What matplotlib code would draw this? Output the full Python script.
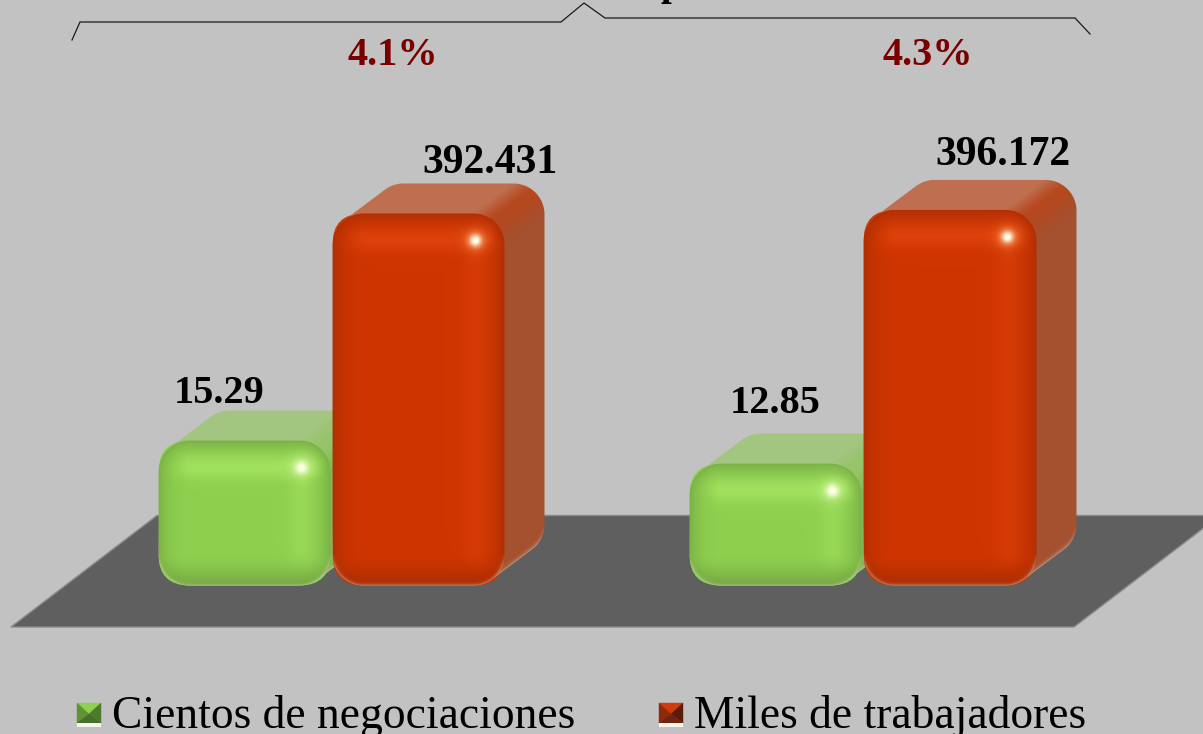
import numpy as np
import matplotlib
matplotlib.use("Agg")
import matplotlib.pyplot as plt
from matplotlib.patches import FancyBboxPatch, Polygon
from matplotlib.transforms import Affine2D, IdentityTransform
from matplotlib.colors import to_rgb

# data, as printed on the chart
groups = [0, 1]
negociaciones = [15.29, 12.85]   # cientos de negociaciones
trabajadores = [392.431, 396.172]  # miles de trabajadores
neg_labels = ["15.29", "12.85"]
trab_labels = ["392.431", "396.172"]
porcentajes = ["4.1%", "4.3%"]
leyenda = ["Cientos de negociaciones", "Miles de trabajadores"]
neg_scale = 10  # the green bars are drawn on a x10 scale in the original

W, H = 1203, 734
BG = "#c2c2c2"
SERIF = "Liberation Serif"
PX_PER_UNIT = 0.948

fig = plt.figure(figsize=(W / 100, H / 100), dpi=100, facecolor=BG)
ax = fig.add_axes([0, 0, 1, 1])
xlim = (-331.5 / 531, (W - 331.5) / 531)
ylim = ((585.5 - H) / PX_PER_UNIT, 585.5 / PX_PER_UNIT)
ax.set_xlim(xlim)
ax.set_ylim(ylim)
ax.axis("off")

# decoration placed in picture pixels, y going down
pix = Affine2D().scale(1 / W, -1 / H).translate(0, 1) + fig.transFigure


def hexmix(a, b, f):
    return a + (b - a) * f[..., None]


def rounded_sd(px, py, L, T, R, B, r):
    cx, cy = (L + R) / 2, (T + B) / 2
    qx = np.abs(px - cx) - (R - L) / 2 + r
    qy = np.abs(py - cy) - (B - T) / 2 + r
    out = np.hypot(np.maximum(qx, 0), np.maximum(qy, 0))
    return out + np.minimum(np.maximum(qx, qy), 0) - r


def paint_bar(rect, colors, zorder):
    """Paint the rounded 3D look over a bar rectangle."""
    (x0, y0), (x1, y1) = ax.transData.transform(
        [(rect.get_x(), rect.get_y()), (rect.get_x() + rect.get_width(), rect.get_height())]
    )
    L, R, B, T = x0, x1, H - y0, H - y1
    r, dx, dy = 31.0, 40.0, -30.0

    clip = FancyBboxPatch((L + r, y0 + r), R - L - 2 * r, y1 - y0 - 2 * r,
                          boxstyle=f"round,pad={r},rounding_size={r}",
                          transform=IdentityTransform())
    rect.set_clip_path(clip)

    ix0, ix1 = int(L) - 2, int(R + dx) + 3
    iy0, iy1 = int(T + dy) - 2, int(B) + 3
    px, py = np.meshgrid(np.arange(ix0, ix1) + 0.5, np.arange(iy0, iy1) + 0.5)

    # sides: sweep the rounded front box backwards
    sweep = np.full(px.shape, 1e9)
    qx, qy = px.copy(), py.copy()
    found = np.zeros(px.shape, bool)
    for t in np.linspace(0, 1, 61):
        sx, sy = px - t * dx, py - t * dy
        sd = rounded_sd(sx, sy, L, T, R, B, r)
        sweep = np.minimum(sweep, sd)
        new = (sd <= 0.5) & ~found
        qx[new], qy[new] = sx[new], sy[new]
        found |= new

    ux = np.maximum(qx - (R - r), 0)
    uy = np.maximum((T + r) - qy, 0)
    ang = np.where((ux > 0) | (uy > 0), np.arctan2(ux, uy), np.pi / 2)
    f = ang / (np.pi / 2)
    top, corner, side = [np.array(to_rgb(c)) for c in colors["sides"]]
    img = np.where((f < 0.5)[..., None],
                   hexmix(top, corner, np.clip(f / 0.4, 0, 1)),
                   hexmix(corner, side, np.clip((f - 0.5) / 0.5, 0, 1)))

    # pale rim where the side meets the floor
    rim = np.exp(-np.maximum(-sweep, 0) / 1.5) * np.clip((py - (B - 60)) / 20, 0, 1)
    img = hexmix(img, np.array([0.85, 0.82, 0.78]), 0.6 * rim)

    # front face
    front = rounded_sd(px, py, L, T, R, B, r)
    depth = np.maximum(-front, 0)
    base, band, dark, low = [np.array(to_rgb(c)) for c in colors["front"]]
    face = np.ones(px.shape + (3,)) * base
    xfade = np.clip((px - L - 8) / 22, 0, 1) * np.clip((R - 4 - px) / 12, 0, 1)
    hband = np.exp(-((py - T - 25) / 13) ** 2) * xfade
    vband = (np.exp(-((px - R + 28) / 13) ** 2)
             * np.clip((py - T - 12) / 14, 0, 1) * np.clip((B - 10 - py) / 24, 0, 1))
    face = hexmix(face, band, 0.7 * np.maximum(hband, 0.5 * vband))
    floor_dark = np.clip((py - (B - 30)) / 30, 0, 1) ** 1.5
    face = hexmix(face, low, 0.6 * floor_dark)
    face = hexmix(face, dark, 0.65 * np.exp(-depth / 10))
    d2 = (px - R + 29) ** 2 + (py - T - 27) ** 2
    face = hexmix(face, colors["halo"], 0.85 * np.exp(-d2 / 130))
    face = hexmix(face, np.array([1.0, 1.0, 0.9]), np.clip(1.15 * np.exp(-d2 / 32), 0, 1))
    rim_front = np.exp(-depth / 1.3) * np.clip((py - (B - 32)) / 12, 0, 1)
    face = hexmix(face, np.array([0.88, 0.84, 0.76]), 0.55 * rim_front)

    img = hexmix(img, face, np.clip(0.5 - front, 0, 1))
    rgba = np.dstack([np.clip(img, 0, 1), np.clip(0.5 - sweep, 0, 1)])

    inv = ax.transData.inverted()
    (a, b), (c, d) = inv.transform([(ix0, H - iy1), (ix1, H - iy0)])
    ax.imshow(rgba, extent=(a, c, b, d), origin="upper", aspect="auto",
              interpolation="nearest", zorder=zorder)


GREEN = {"front": ("#8fd14f", "#abec66", "#6f9f40", "#6f9f40"),
         "sides": ("#a2c57f", "#96c469", "#86b657"),
         "halo": np.array(to_rgb("#c9f590"))}
RED = {"front": ("#cf3500", "#e8470f", "#a02c06", "#a12a00"),
       "sides": ("#bf6e50", "#b5481e", "#a5502f"),
       "halo": np.array(to_rgb("#f57a3c"))}

# floor
ax.add_patch(Polygon([(11, 627), (1074, 627), (1220, 515.5), (157, 515.5)], closed=True,
                     facecolor="#5f5f5f", edgecolor="#8a8a8a", linewidth=1,
                     transform=pix, zorder=1))

width = 172 / 531
gap = 2 / 531
xs = np.array(groups)
neg_bars = ax.bar(xs - width / 2 - gap / 2, np.array(negociaciones) * neg_scale, width,
                  color="#8fd14f", zorder=2)
trab_bars = ax.bar(xs + width / 2 + gap / 2, trabajadores, width, color="#cf3500", zorder=2)

z = 3
for g_bar, r_bar in zip(neg_bars, trab_bars):
    g_bar.set_zorder(z)
    paint_bar(g_bar, GREEN, z + 0.5)
    r_bar.set_zorder(z + 1)
    paint_bar(r_bar, RED, z + 1.5)
    z += 2
ax.set_xlim(xlim)
ax.set_ylim(ylim)

# value labels above the bars, offsets in pixels from the bar's top centre
neg_offsets = [(-25, 38), (0, 51)]
trab_offsets = [(71, 40), (53, 45)]
for i in range(2):
    g_bar, r_bar = neg_bars[i], trab_bars[i]
    ax.annotate(neg_labels[i], (g_bar.get_x() + g_bar.get_width() / 2, g_bar.get_height()),
                xytext=neg_offsets[i], textcoords="offset pixels", ha="center", va="baseline",
                fontsize=29, fontweight="bold", family=SERIF, color="black", zorder=20)
    ax.annotate(trab_labels[i], (r_bar.get_x() + r_bar.get_width() / 2, r_bar.get_height()),
                xytext=trab_offsets[i], textcoords="offset pixels", ha="center", va="baseline",
                fontsize=30, fontweight="bold", family=SERIF, color="black", zorder=20)

for x_px, s in zip([393, 928], porcentajes):
    ax.text(x_px, 65, s, transform=pix, ha="center", va="baseline", fontsize=29,
            fontweight="bold", family=SERIF, color="#7a0000")

# bracket across the top, with a scrap of the clipped title above it
ax.plot([72, 80, 561, 584, 605, 1075, 1090], [40, 22, 22, 3, 18, 18, 34], transform=pix,
        color="#1a1a1a", linewidth=0.9, solid_joinstyle="miter", zorder=5)
ax.text(671, -5, "p", transform=pix, ha="center", va="baseline", fontsize=28,
        fontweight="bold", family=SERIF, color="black", clip_on=True)


# legend
def legend_key(x, y, s, c_top, c_left, c_right, c_bottom):
    a, b, c, d = (x, y), (x + s, y), (x + s, y + s - 4), (x, y + s - 4)
    m = (x + s / 2, y + s / 2 - 1)
    for tri, col in [((a, b, m), c_top), ((a, d, m), c_left), ((b, c, m), c_right), ((d, c, m), c_bottom)]:
        ax.add_patch(Polygon(tri, closed=True, facecolor=col, edgecolor=col, linewidth=0.3,
                             transform=pix, zorder=6))
    ax.add_patch(Polygon([d, c, (x + s, y + s), (x, y + s)], closed=True, facecolor="#f6f4ec",
                         edgecolor="none", transform=pix, zorder=6))


legend_key(77, 703, 24, "#8fd14f", "#5f9436", "#4d7a2b", "#46702a")
legend_key(659, 703, 24, "#d23c08", "#8f2a08", "#5a1c06", "#6e2410")
for x_px, s in zip([112, 694], leyenda):
    ax.text(x_px, 728, s, transform=pix, ha="left", va="baseline", fontsize=32.8,
            family=SERIF, color="black")

fig.savefig("out.png", dpi=100, facecolor=BG)
